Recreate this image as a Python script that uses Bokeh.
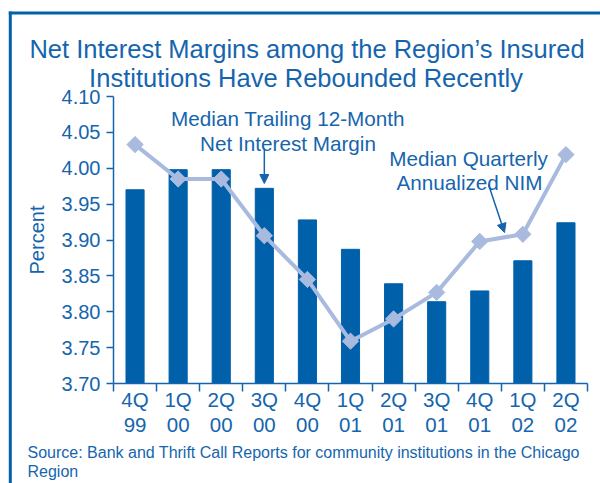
from bokeh.plotting import figure
from bokeh.models import Label, Arrow, NormalHead, FixedTicker, NumeralTickFormatter, BoxAnnotation
from bokeh.embed import file_html
from bokeh.resources import INLINE

# ---- data ----
quarters = ["4Q\n99", "1Q\n00", "2Q\n00", "3Q\n00", "4Q\n00", "1Q\n01",
            "2Q\n01", "3Q\n01", "4Q\n01", "1Q\n02", "2Q\n02"]
quarterly_nim = [3.970, 3.998, 3.998, 3.972, 3.928, 3.887, 3.839, 3.814, 3.829, 3.871, 3.924]
trailing_nim = [4.033, 3.985, 3.985, 3.906, 3.845, 3.759, 3.790, 3.827, 3.898, 3.908, 4.019]
y_ticks = [3.70, 3.75, 3.80, 3.85, 3.90, 3.95, 4.00, 4.05, 4.10]
Y_MIN, Y_MAX = 3.70, 4.10

BLUE = "#0060aa"
TEXT = "#1565ae"
LINE = "#a9badf"
FONT = "Liberation Sans"

W, H = 600, 483
# axes box in page pixels: x 113..587, y 96..383
FX0, FX1, FY0, FY1 = 113, 587, 96, 383
n = len(quarters)
xu = (FX1 - FX0) / n              # px per category
yu = (FY1 - FY0) / (Y_MAX - Y_MIN)  # px per percent

def dx(px):
    return (px - FX0) / xu

def dy(py):
    return Y_MIN + (FY1 - py) / yu

p = figure(width=W, height=H,
           x_range=(dx(0), dx(W)), y_range=(dy(H), dy(0)),
           output_backend="svg", toolbar_location=None, title=None,
           min_border=0, min_border_left=0, min_border_right=0,
           min_border_top=0, min_border_bottom=0)
p.outline_line_color = None
p.xgrid.visible = False
p.ygrid.visible = False
p.background_fill_color = "white"
p.border_fill_color = "white"

xc = [i + 0.5 for i in range(n)]
p.vbar(x=xc, top=quarterly_nim, bottom=Y_MIN, width=0.42, color=BLUE)
p.line(x=xc, y=trailing_nim, line_color=LINE, line_width=4)
p.scatter(x=xc, y=trailing_nim, marker="square", angle=0.785398, size=11.5,
          fill_color=LINE, line_color=LINE)

# x axis
xa = p.xaxis[0]
xa.fixed_location = Y_MIN
xa.bounds = (0, n)
xa.ticker = FixedTicker(ticks=xc, minor_ticks=list(range(n + 1)))
xa.major_label_overrides = {xc[i]: quarters[i] for i in range(n)}
xa.major_tick_line_color = None
xa.major_tick_out = 0
xa.major_tick_in = 0
xa.minor_tick_out = 8
xa.minor_tick_in = 0
xa.minor_tick_line_color = TEXT
xa.minor_tick_line_width = 1.5
xa.axis_line_color = TEXT
xa.axis_line_width = 1.5
xa.major_label_standoff = -4
xa.major_label_text_font = FONT
xa.major_label_text_font_size = "20.5px"
xa.major_label_text_line_height = 1.1
xa.major_label_text_color = TEXT

# y axis
ya = p.yaxis[0]
ya.fixed_location = 0
ya.bounds = (Y_MIN, Y_MAX)
ya.ticker = FixedTicker(ticks=y_ticks)
ya.formatter = NumeralTickFormatter(format="0.00")
ya.minor_tick_line_color = None
ya.major_tick_out = 7
ya.major_tick_in = 0
ya.major_tick_line_color = TEXT
ya.major_tick_line_width = 1.5
ya.axis_line_color = TEXT
ya.axis_line_width = 1.5
ya.major_label_standoff = 6
ya.major_label_text_font = FONT
ya.major_label_text_font_size = "20px"
ya.major_label_text_color = TEXT
ya.axis_label = "Percent"
ya.axis_label_text_font = FONT
ya.axis_label_text_font_size = "20px"
ya.axis_label_text_font_style = "normal"
ya.axis_label_text_color = TEXT
ya.axis_label_standoff = 11

def lab(text, px, py, size, align="center"):
    p.add_layout(Label(x=dx(px), y=dy(py), text=text, text_font=FONT,
                       text_font_size=size, text_color=TEXT, text_align=align,
                       text_baseline="alphabetic"))

# title
lab("Net Interest Margins among the Region\u2019s Insured", 306.5, 48.5, "25.5px")
lab("Institutions Have Rebounded Recently", 305.5, 77.5, "25.5px")

# annotations
lab("Median Trailing 12-Month", 287.5, 118, "20.7px")
lab("Net Interest Margin", 287.5, 143, "20.7px")
lab("Median Quarterly", 468, 158, "20.7px")
lab("Annualized NIM", 469, 182, "20.7px")

p.add_layout(Arrow(x_start=3.5, y_start=dy(148), x_end=3.5, y_end=dy(183),
                   line_color=TEXT, line_width=1.5,
                   end=NormalHead(size=9, fill_color=TEXT, line_color=TEXT)))
p.add_layout(Arrow(x_start=dx(488), y_start=dy(184), x_end=dx(504), y_end=dy(232),
                   line_color=TEXT, line_width=1.5,
                   end=NormalHead(size=9, fill_color=TEXT, line_color=TEXT)))

# source
lab("Source: Bank and Thrift Call Reports for community institutions in the Chicago", 27, 452, "16px", "left")
lab("Region", 27, 471, "16px", "left")

# frame border (left and top)
p.add_layout(BoxAnnotation(left=dx(8.3), right=dx(11.3), top=dy(11), bottom=dy(H + 5),
                           fill_color=BLUE, fill_alpha=1, line_color=None))
p.add_layout(BoxAnnotation(left=dx(8.3), right=dx(W + 5), top=dy(11), bottom=dy(14),
                           fill_color=BLUE, fill_alpha=1, line_color=None))

open("out.html", "w").write(file_html(p, INLINE))
